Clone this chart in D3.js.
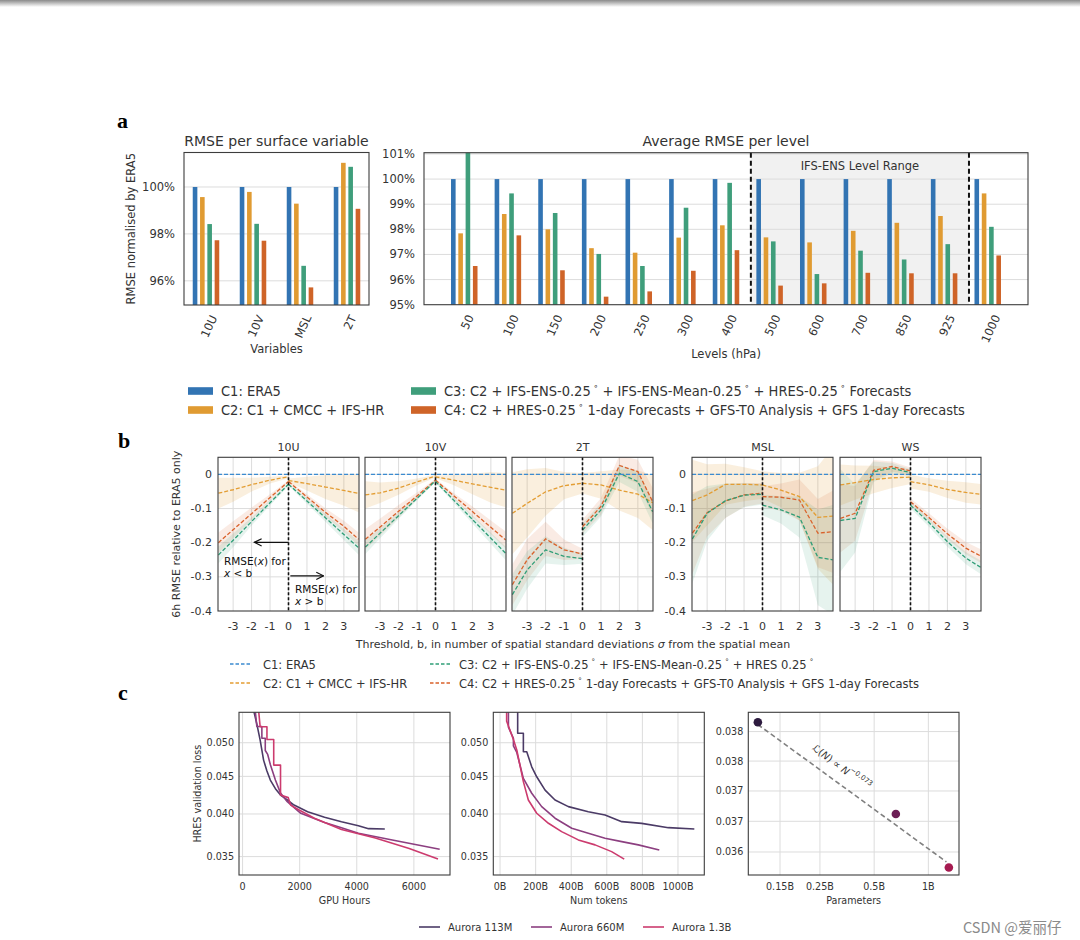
<!DOCTYPE html>
<html>
<head>
<meta charset="utf-8">
<script src="https://cdn.jsdelivr.net/npm/d3@7"></script>
<style>
  body { margin: 0; background: #fff; }
  svg text { font-family: "DejaVu Sans", sans-serif; fill: #333; }
  .cond { font-family: "DejaVu Sans Condensed", "Liberation Sans Narrow", "DejaVu Sans", sans-serif; font-stretch: condensed; }
</style>
</head>
<body>
<svg id="fig" width="1080" height="940"></svg>
<script>
// ---------- panel a data ----------
const configsA = ["C1: ERA5", "C2: C1 + CMCC + IFS-HR",
  "C3: C2 + IFS-ENS-0.25° + IFS-ENS-Mean-0.25° + HRES-0.25° Forecasts",
  "C4: C2 + HRES-0.25° 1-day Forecasts + GFS-T0 Analysis + GFS 1-day Forecasts"];
const barColors = ["#3274b3", "#e09b32", "#3f9e7b", "#cf6428"];
const surfVars = ["10U", "10V", "MSL", "2T"];
const surfC1 = [100, 100, 100, 100];
const surfC2 = [99.57, 99.79, 99.29, 101.03];
const surfC3 = [98.42, 98.43, 96.64, 100.86];
const surfC4 = [97.73, 97.71, 95.72, 99.07];
const surfTicks = [96, 98, 100];
const levels = ["50", "100", "150", "200", "250", "300", "400", "500", "600", "700", "850", "925", "1000"];
const levC1 = [100, 100, 100, 100, 100, 100, 100, 100, 100, 100, 100, 100, 100];
const levC2 = [97.84, 98.61, 98.0, 97.25, 97.07, 97.67, 98.16, 97.68, 97.48, 97.94, 98.26, 98.53, 99.43];
const levC3 = [101.4, 99.43, 98.65, 97.02, 96.54, 98.86, 99.85, 97.52, 96.22, 97.15, 96.8, 97.41, 98.1];
const levC4 = [96.54, 97.76, 96.37, 95.32, 95.53, 96.35, 97.17, 95.76, 95.85, 96.27, 96.25, 96.25, 96.96];
const levTicks = [95, 96, 97, 98, 99, 100, 101];

// ---------- panel b data ----------
const configsB = ["C1: ERA5", "C2: C1 + CMCC + IFS-HR",
  "C3: C2 + IFS-ENS-0.25° + IFS-ENS-Mean-0.25° + HRES 0.25°",
  "C4: C2 + HRES-0.25° 1-day Forecasts + GFS-T0 Analysis + GFS 1-day Forecasts"];
const lineColors = ["#3b8bd0", "#e39d33", "#2f9e77", "#d9622b"];
const bVars = ["10U", "10V", "2T", "MSL", "WS"];
const bXL = [-3.8, -3, -2, -1, 0];
const bXR = [0, 1, 2, 3, 3.8];
const bXTicks = [-3, -2, -1, 0, 1, 2, 3];
const bYTicks = [0, -0.1, -0.2, -0.3, -0.4];
// means, one row per variable (10U, 10V, 2T, MSL, WS)
const c2L = [[-0.055, -0.045, -0.03, -0.017, -0.007], [-0.06, -0.054, -0.04, -0.022, -0.005],
  [-0.114, -0.085, -0.051, -0.033, -0.026], [-0.077, -0.06, -0.029, -0.029, -0.031], [-0.031, -0.024, -0.015, -0.01, -0.008]];
const c2R = [[-0.018, -0.027, -0.037, -0.047, -0.056], [-0.007, -0.017, -0.028, -0.038, -0.046],
  [-0.026, -0.031, -0.046, -0.058, -0.083], [-0.031, -0.046, -0.065, -0.126, -0.122], [-0.021, -0.031, -0.044, -0.053, -0.058]];
const c3L = [[-0.236, -0.193, -0.138, -0.083, -0.029], [-0.213, -0.172, -0.121, -0.07, -0.019],
  [-0.352, -0.28, -0.221, -0.24, -0.247], [-0.189, -0.114, -0.077, -0.061, -0.058], [-0.135, -0.129, 0.008, 0.018, 0.005]];
const c3R = [[-0.029, -0.078, -0.127, -0.176, -0.215], [-0.021, -0.076, -0.132, -0.187, -0.231],
  [-0.163, -0.104, 0.003, -0.021, -0.109], [-0.09, -0.104, -0.125, -0.243, -0.25], [-0.09, -0.141, -0.197, -0.245, -0.272]];
const c4L = [[-0.2, -0.162, -0.115, -0.068, -0.021], [-0.19, -0.154, -0.108, -0.063, -0.017],
  [-0.323, -0.25, -0.189, -0.221, -0.233], [-0.172, -0.112, -0.078, -0.06, -0.055], [-0.129, -0.114, 0.012, 0.023, 0.01]];
const c4R = [[-0.021, -0.066, -0.111, -0.152, -0.19], [-0.017, -0.063, -0.109, -0.155, -0.192],
  [-0.153, -0.094, 0.026, 0.008, -0.08], [-0.065, -0.067, -0.075, -0.172, -0.168], [-0.08, -0.126, -0.174, -0.216, -0.239]];
// spread (half width of shaded band)
const c2BL = [[0.045, 0.035, 0.02, 0.01, 0.004], [0.04, 0.03, 0.02, 0.01, 0.004],
  [0.12, 0.1, 0.07, 0.04, 0.03], [0.12, 0.09, 0.06, 0.05, 0.04], [0.06, 0.05, 0.04, 0.03, 0.02]];
const c2BR = [[0.006, 0.02, 0.035, 0.045, 0.055], [0.004, 0.015, 0.03, 0.045, 0.05],
  [0.03, 0.04, 0.06, 0.07, 0.08], [0.04, 0.05, 0.07, 0.15, 0.2], [0.02, 0.02, 0.025, 0.03, 0.03]];
const c3BL = [[0.025, 0.02, 0.012, 0.008, 0.004], [0.02, 0.015, 0.01, 0.006, 0.004],
  [0.06, 0.055, 0.04, 0.025, 0.015], [0.13, 0.08, 0.05, 0.035, 0.03], [0.15, 0.1, 0.03, 0.015, 0.01]];
const c3BR = [[0.004, 0.008, 0.012, 0.016, 0.02], [0.004, 0.008, 0.012, 0.016, 0.02],
  [0.02, 0.02, 0.025, 0.03, 0.035], [0.03, 0.04, 0.06, 0.14, 0.16], [0.01, 0.012, 0.015, 0.018, 0.02]];
const c4BL = [[0.03, 0.025, 0.018, 0.01, 0.004], [0.03, 0.025, 0.018, 0.01, 0.004],
  [0.06, 0.06, 0.05, 0.03, 0.015], [0.12, 0.07, 0.05, 0.035, 0.03], [0.1, 0.08, 0.03, 0.015, 0.01]];
const c4BR = [[0.004, 0.008, 0.012, 0.016, 0.02], [0.004, 0.008, 0.015, 0.02, 0.025],
  [0.02, 0.025, 0.03, 0.035, 0.04], [0.03, 0.04, 0.06, 0.1, 0.12], [0.01, 0.012, 0.015, 0.018, 0.02]];

// ---------- panel c data ----------
const models = ["Aurora 113M", "Aurora 660M", "Aurora 1.3B"];
const modelLine = ["#4b3b66", "#8c3f80", "#cc3b6e"];
const modelDot = ["#2d1b3f", "#6d1f56", "#a51a50"];
const hours113 = [380, 500, 616, 736, 850, 972, 1150, 1329, 1566, 1803, 2278, 2871, 3464, 4057, 4413, 4982];
const lossH113 = [0.0555, 0.053, 0.0504, 0.04735, 0.0458, 0.04448, 0.0433, 0.04244, 0.0418, 0.04113, 0.04029, 0.03958, 0.03904, 0.03856, 0.0382, 0.03816];
const hours660 = [439, 500, 676, 676, 795, 795, 880, 972, 1150, 1329, 1566, 2040, 2871, 3464, 4057, 5243, 6904];
const lossH660 = [0.0555, 0.0526, 0.0526, 0.0507, 0.0507, 0.0488, 0.0482, 0.0467, 0.0445, 0.0427, 0.04157, 0.04008, 0.03894, 0.0383, 0.03765, 0.03686, 0.03581];
const hours1b3 = [558, 616, 854, 854, 1091, 1091, 1329, 1329, 1600, 1684, 1981, 2515, 3464, 4650, 5836, 6844];
const lossH1b3 = [0.0555, 0.05256, 0.05256, 0.05052, 0.05052, 0.04662, 0.04662, 0.04244, 0.0421, 0.04113, 0.0405, 0.03946, 0.0381, 0.0371, 0.0359, 0.03475];
const tok113 = [99, 99, 131, 131, 150, 178, 206, 253, 309, 384, 496, 590, 684, 796, 946, 1092];
const lossT113 = [0.0555, 0.0515, 0.0515, 0.0486, 0.0486, 0.04637, 0.04494, 0.04311, 0.04179, 0.04093, 0.04029, 0.03988, 0.03905, 0.03884, 0.03832, 0.03816];
const tok660 = [47, 47, 75, 75, 94, 131, 178, 234, 309, 403, 496, 590, 684, 777, 895];
const lossT660 = [0.0555, 0.0525, 0.0507, 0.0495, 0.0485, 0.04472, 0.04268, 0.04093, 0.03947, 0.03825, 0.03766, 0.03707, 0.03668, 0.03631, 0.03573];
const tok1b3 = [37, 37, 75, 94, 131, 159, 206, 272, 346, 440, 534, 627, 698];
const lossT1b3 = [0.0555, 0.0535, 0.0505, 0.04887, 0.04426, 0.04179, 0.04009, 0.03885, 0.03785, 0.03688, 0.03631, 0.03555, 0.03472];
const params = [0.113, 0.660, 1.3];
const finalLoss = [0.03866, 0.03712, 0.03625];
const fitN = [0.113, 1.26];
const fitLoss = [0.03862, 0.03634];
const cTicksH = [0, 2000, 4000, 6000];
const cTicksT = [0, 200, 400, 600, 800, 1000];
const cTicksLoss = [0.035, 0.040, 0.045, 0.050];
const cTicksN = [0.15, 0.25, 0.5, 1];
const cTicksNLab = ["0.15B", "0.25B", "0.5B", "1B"];
const cTicksL3 = [0.0385, 0.038, 0.0375, 0.037, 0.0365];
const cTicksL3Lab = ["0.038", "0.038", "0.037", "0.037", "0.036"];

// ---------- helpers ----------
const fig = d3.select("#fig");
const defs = fig.append("defs");
let clipN = 0;
function clip(b) {
  const id = "clip" + (clipN++);
  defs.append("clipPath").attr("id", id).append("rect")
    .attr("x", b.x0).attr("y", b.y0).attr("width", b.x1 - b.x0).attr("height", b.y1 - b.y0);
  return `url(#${id})`;
}
function frame(g, b) {
  g.append("rect").attr("x", b.x0).attr("y", b.y0).attr("width", b.x1 - b.x0).attr("height", b.y1 - b.y0)
    .attr("fill", "none").attr("stroke", "#3d3d3d").attr("stroke-width", 1.1);
}
function hgrid(g, b, y, ticks) {
  g.append("g").selectAll("line").data(ticks).join("line")
    .attr("x1", b.x0).attr("x2", b.x1).attr("y1", d => y(d)).attr("y2", d => y(d))
    .attr("stroke", "#dcdcdc").attr("stroke-width", 1);
}
function vgrid(g, b, x, ticks) {
  g.append("g").selectAll("line").data(ticks).join("line")
    .attr("y1", b.y0).attr("y2", b.y1).attr("x1", d => x(d)).attr("x2", d => x(d))
    .attr("stroke", "#dcdcdc").attr("stroke-width", 1);
}
function label(g, txt, x, y, fs, anchor, rot) {
  const t = g.append("text").attr("font-size", fs).attr("text-anchor", anchor || "middle")
    .attr("dominant-baseline", "central").text(txt);
  t.attr("transform", `translate(${x},${y})` + (rot ? ` rotate(${rot})` : ""));
  return t;
}
// write text with raised degree circles
function degText(t, str, fs) {
  const parts = str.split("°");
  parts.forEach((p, i) => {
    t.append("tspan").text(p);
    if (i < parts.length - 1) {
      t.append("tspan").attr("dx", 2.5).attr("font-size", fs * 0.62).attr("baseline-shift", "super").text("∘");
    }
  });
}

// top page shadow
const grad = defs.append("linearGradient").attr("id", "shadow").attr("x1", 0).attr("x2", 0).attr("y1", 0).attr("y2", 1);
grad.append("stop").attr("offset", "0%").attr("stop-color", "#8a8a8a");
grad.append("stop").attr("offset", "100%").attr("stop-color", "#ffffff");
fig.append("rect").attr("width", 1080).attr("height", 7).attr("fill", "url(#shadow)");

// panel letters
[["a", 117, 128], ["b", 118, 448], ["c", 118, 700]].forEach(([s, x, y]) => {
  fig.append("text").attr("x", x).attr("y", y).attr("font-size", 22).attr("font-weight", "bold")
    .style("font-family", "'Liberation Serif', 'DejaVu Serif', serif").style("fill", "#000").text(s);
});

// ================= panel a =================
const sub = d3.scaleBand().domain(d3.range(4)).range([-14.6, 14.6]).paddingInner(0.37).paddingOuter(0.185);

function rotTick(g, txt, cx, top, fs) {
  const t = g.append("text").attr("font-size", fs).attr("text-anchor", "middle")
    .attr("dominant-baseline", "central").text(txt);
  const len = t.node().getComputedTextLength();
  const a = 65 * Math.PI / 180;
  const h = len * Math.sin(a) + fs * 0.75 * Math.cos(a);
  t.attr("transform", `translate(${cx},${top + h / 2}) rotate(-65)`);
}

function barPanel(box, cats, series, x, y, ticks) {
  const g = fig.append("g");
  hgrid(g, box, y, ticks.filter(d => y(d) > box.y0 + 1 && y(d) < box.y1 - 1));
  const bg = g.append("g").attr("clip-path", clip(box));
  series.forEach((vals, si) => {
    bg.append("g").selectAll("rect").data(vals).join("rect")
      .attr("x", (d, i) => x(cats[i]) + sub(si))
      .attr("width", sub.bandwidth())
      .attr("y", d => y(d))
      .attr("height", d => box.y1 - y(d) + 2)
      .attr("fill", barColors[si]);
  });
  g.append("g").selectAll("text").data(ticks).join("text")
    .attr("x", box.x0 - 9).attr("y", d => y(d)).attr("font-size", 11.5)
    .attr("text-anchor", "end").attr("dominant-baseline", "central").text(d => d + "%");
  cats.forEach(c => rotTick(g, c, x(c) + 3, box.y1 + 9, 11.5));
  return g;
}

// surface variables
const aL = { x0: 184, x1: 369, y0: 152.5, y1: 305 };
const xS = d3.scalePoint().domain(surfVars).range([aL.x0, aL.x1]).padding(0.468);
const yS = d3.scaleLinear().domain([94.97, 101.47]).range([aL.y1, aL.y0]);
const gL = barPanel(aL, surfVars, [surfC1, surfC2, surfC3, surfC4], xS, yS, surfTicks);
frame(gL, aL);
label(gL, "RMSE per surface variable", (aL.x0 + aL.x1) / 2, 141, 14);
label(gL, "Variables", (aL.x0 + aL.x1) / 2, 349, 11.5);
label(gL, "RMSE normalised by ERA5", 131, (aL.y0 + aL.y1) / 2, 11.5, "middle", -90);

// per level
const aR = { x0: 424, x1: 1028, y0: 152.7, y1: 304.7 };
const xLv = d3.scalePoint().domain(levels).range([aR.x0, aR.x1]).padding(0.923);
const yLv = d3.scaleLinear().domain([95, 101.05]).range([aR.y1, aR.y0]);
const ensLo = xLv(levels[6]) + xLv.step() * 0.57;
const ensHi = xLv(levels[11]) + xLv.step() * 0.57;
fig.append("rect").attr("x", ensLo).attr("y", aR.y0).attr("width", ensHi - ensLo).attr("height", aR.y1 - aR.y0)
  .attr("fill", "#f1f1f1");
const gR = barPanel(aR, levels, [levC1, levC2, levC3, levC4], xLv, yLv, levTicks);
[ensLo, ensHi].forEach(xv => {
  gR.append("line").attr("x1", xv).attr("x2", xv).attr("y1", aR.y0).attr("y2", aR.y1)
    .attr("stroke", "#111").attr("stroke-width", 2).attr("stroke-dasharray", "5,3");
});
label(gR, "IFS-ENS Level Range", (ensLo + ensHi) / 2, 166, 11.5);
frame(gR, aR);
label(gR, "Average RMSE per level", (aR.x0 + aR.x1) / 2, 141, 14);
label(gR, "Levels (hPa)", (aR.x0 + aR.x1) / 2, 354, 11.5);

// legend a
const legA = fig.append("g");
configsA.forEach((c, i) => {
  const col = i < 2 ? 0 : 1, row = i % 2;
  const lx = [188, 411][col], ly = [391, 410][row];
  legA.append("rect").attr("x", lx).attr("y", ly - 3.8).attr("width", 25).attr("height", 7.6).attr("fill", barColors[i]);
  const t = legA.append("text").attr("class", "cond").attr("x", lx + 33).attr("y", ly)
    .attr("font-size", 14.5).attr("dominant-baseline", "central");
  degText(t, c, 14.5);
});

// ================= panel b =================
const bBoxes = [[218, 359], [365, 506], [512, 653], [692, 833], [840, 981]];
const bTop = 457.3, bBot = 611;
const yB = d3.scaleLinear().domain([-0.4, 0.05]).range([bBot, bTop]);
const fmtB = d => d === 0 ? "0" : d3.format(".1f")(d).replace("−", "-");

bVars.forEach((v, i) => {
  const box = { x0: bBoxes[i][0], x1: bBoxes[i][1], y0: bTop, y1: bBot };
  const x = d3.scaleLinear().domain([-3.82, 3.82]).range([box.x0, box.x1]);
  const g = fig.append("g");
  vgrid(g, box, x, bXTicks);
  hgrid(g, box, yB, bYTicks.slice(0, 4));
  const cg = g.append("g").attr("clip-path", clip(box));
  const sides = [[bXL, c2L, c2BL, c3L, c3BL, c4L, c4BL], [bXR, c2R, c2BR, c3R, c3BR, c4R, c4BR]];
  const specs = [[1, 2, 0.16], [5, 6, 0.13], [3, 4, 0.12]]; // [mean idx, band idx, opacity] for C2, C4, C3
  const colOf = { 1: lineColors[1], 3: lineColors[2], 5: lineColors[3] };
  sides.forEach(s => {
    const xs = s[0];
    specs.forEach(([mi, bi, op]) => {
      const m = s[mi][i], b = s[bi][i];
      const area = d3.area().x((d, j) => x(xs[j])).y0((d, j) => yB(m[j] - b[j])).y1((d, j) => yB(m[j] + b[j]));
      cg.append("path").attr("d", area(m)).attr("fill", colOf[mi]).attr("fill-opacity", op);
    });
  });
  sides.forEach(s => {
    const xs = s[0];
    [1, 5, 3].forEach(mi => {
      const m = s[mi][i];
      const line = d3.line().x((d, j) => x(xs[j])).y(d => yB(d));
      cg.append("path").attr("d", line(m)).attr("fill", "none").attr("stroke", colOf[mi])
        .attr("stroke-width", 1.3).attr("stroke-dasharray", "4,2");
    });
  });
  cg.append("line").attr("x1", box.x0).attr("x2", box.x1).attr("y1", yB(0)).attr("y2", yB(0))
    .attr("stroke", lineColors[0]).attr("stroke-width", 1.3).attr("stroke-dasharray", "4,2");
  g.append("line").attr("x1", x(0)).attr("x2", x(0)).attr("y1", box.y0).attr("y2", box.y1)
    .attr("stroke", "#111").attr("stroke-width", 1.6).attr("stroke-dasharray", "3,2");
  frame(g, box);
  label(g, v, (box.x0 + box.x1) / 2, 447, 11);
  g.append("g").selectAll("text").data(bXTicks).join("text")
    .attr("x", d => x(d)).attr("y", 626.5).attr("font-size", 11).attr("text-anchor", "middle")
    .attr("dominant-baseline", "central").text(d => String(d));
  if (i === 0 || i === 3) {
    g.append("g").selectAll("text").data(bYTicks).join("text")
      .attr("x", box.x0 - 6).attr("y", d => yB(d)).attr("font-size", 11).attr("text-anchor", "end")
      .attr("dominant-baseline", "central").text(fmtB);
  }
  if (i === 0) {
    defs.append("marker").attr("id", "arrow").attr("viewBox", "0 0 10 10").attr("refX", 9).attr("refY", 5)
      .attr("markerWidth", 7).attr("markerHeight", 7).attr("orient", "auto-start-reverse")
      .append("path").attr("d", "M1,1 L9,5 L1,9").attr("fill", "none").attr("stroke", "#111").attr("stroke-width", 1.3);
    g.append("line").attr("x1", x(0)).attr("x2", x(-1.85)).attr("y1", yB(-0.199)).attr("y2", yB(-0.199))
      .attr("stroke", "#111").attr("stroke-width", 1.3).attr("marker-end", "url(#arrow)");
    g.append("line").attr("x1", x(0.1)).attr("x2", x(1.9)).attr("y1", yB(-0.297)).attr("y2", yB(-0.297))
      .attr("stroke", "#111").attr("stroke-width", 1.3).attr("marker-end", "url(#arrow)");
    const ann = [[-3.5, -0.255, "RMSE(", "x", ") for"], [-3.5, -0.29, "", "x", " < b"],
                 [0.35, -0.335, "RMSE(", "x", ") for"], [0.35, -0.37, "", "x", " > b"]];
    ann.forEach(([ax, ay, a, b, c]) => {
      const t = g.append("text").attr("x", x(ax)).attr("y", yB(ay)).attr("font-size", 10.5)
        .attr("dominant-baseline", "central").style("fill", "#111");
      t.append("tspan").text(a);
      t.append("tspan").attr("font-style", "italic").text(b);
      t.append("tspan").text(c);
    });
  }
});
label(fig, "6h RMSE relative to ERA5 only", 176, (bTop + bBot) / 2, 11, "middle", -90);
{
  const t = fig.append("text").attr("x", 573).attr("y", 644).attr("font-size", 11)
    .attr("text-anchor", "middle").attr("dominant-baseline", "central");
  t.append("tspan").text("Threshold, b, in number of spatial standard deviations ");
  t.append("tspan").attr("font-style", "italic").text("σ");
  t.append("tspan").text(" from the spatial mean");
}

// legend b
const legB = fig.append("g");
configsB.forEach((c, i) => {
  const col = i < 2 ? 0 : 1, row = i % 2;
  const lx = [230, 430][col], ly = [664, 683][row];
  legB.append("line").attr("x1", lx).attr("x2", lx + 22).attr("y1", ly).attr("y2", ly)
    .attr("stroke", lineColors[i]).attr("stroke-width", 1.3).attr("stroke-dasharray", "3.5,2");
  const t = legB.append("text").attr("class", "cond").attr("x", lx + (col === 0 ? 33 : 29)).attr("y", ly)
    .attr("font-size", 12.8).attr("dominant-baseline", "central");
  degText(t, c, 12.8);
});

// ================= panel c =================
const cTop = 712.3, cBot = 875;
const yC = d3.scaleLog().domain([0.03304, 0.055]).range([cBot, cTop]);
const fmtC = d3.format(".3f");

function curvePanel(box, x, xTicks, xFmt, curves, xLabel, yLabelOn) {
  const g = fig.append("g");
  vgrid(g, box, x, xTicks);
  hgrid(g, box, yC, cTicksLoss);
  const cg = g.append("g").attr("clip-path", clip(box));
  curves.forEach(([xs, ys], k) => {
    const line = d3.line().x((d, j) => x(xs[j])).y(d => yC(d));
    cg.append("path").attr("d", line(ys)).attr("fill", "none").attr("stroke", modelLine[k])
      .attr("stroke-width", 1.6).attr("stroke-linejoin", "round");
  });
  frame(g, box);
  g.append("g").selectAll("text").data(xTicks).join("text")
    .attr("x", d => x(d)).attr("y", 886).attr("font-size", 9.6).attr("text-anchor", "middle")
    .attr("dominant-baseline", "central").text(xFmt);
  g.append("g").selectAll("text").data(cTicksLoss).join("text")
    .attr("x", box.x0 - 5).attr("y", d => yC(d)).attr("font-size", 9.6).attr("text-anchor", "end")
    .attr("dominant-baseline", "central").text(fmtC);
  label(g, xLabel, (box.x0 + box.x1) / 2, 900, 9.6);
  if (yLabelOn) label(g, "HRES validation loss", 197, (cTop + cBot) / 2, 9.6, "middle", -90);
}

const c1 = { x0: 239, x1: 450, y0: cTop, y1: cBot };
const xH = d3.scaleLinear().domain([-125, 7265]).range([c1.x0, c1.x1]);
curvePanel(c1, xH, cTicksH, d => String(d), [[hours113, lossH113], [hours660, lossH660], [hours1b3, lossH1b3]], "GPU Hours", true);

const c2 = { x0: 493.3, x1: 704.3, y0: cTop, y1: cBot };
const xT = d3.scaleLinear().domain([-38, 1148]).range([c2.x0, c2.x1]);
curvePanel(c2, xT, cTicksT, d => d + "B", [[tok113, lossT113], [tok660, lossT660], [tok1b3, lossT1b3]], "Num tokens", false);

// scaling panel
const c3 = { x0: 748.3, x1: 959, y0: cTop, y1: cBot };
const xN = d3.scaleLog().domain([0.1, 1.48]).range([c3.x0, c3.x1]);
const yN = d3.scaleLog().domain([0.03613, 0.03883]).range([cBot, cTop]);
{
  const g = fig.append("g");
  vgrid(g, c3, xN, cTicksN);
  hgrid(g, c3, yN, cTicksL3);
  const fit = d3.line().x((d, j) => xN(fitN[j])).y(d => yN(d));
  g.append("path").attr("d", fit(fitLoss)).attr("fill", "none").attr("stroke", "#808080")
    .attr("stroke-width", 1.6).attr("stroke-dasharray", "5,3");
  g.append("g").selectAll("circle").data(finalLoss).join("circle")
    .attr("cx", (d, j) => xN(params[j])).attr("cy", d => yN(d)).attr("r", 4.3)
    .attr("fill", (d, j) => modelDot[j]);
  frame(g, c3);
  g.append("g").selectAll("text").data(cTicksN).join("text")
    .attr("x", d => xN(d)).attr("y", 886).attr("font-size", 9.6).attr("text-anchor", "middle")
    .attr("dominant-baseline", "central").text((d, j) => cTicksNLab[j]);
  g.append("g").selectAll("text").data(cTicksL3).join("text")
    .attr("x", c3.x0 - 5).attr("y", d => yN(d)).attr("font-size", 9.6).attr("text-anchor", "end")
    .attr("dominant-baseline", "central").text((d, j) => cTicksL3Lab[j]);
  label(g, "Parameters", (c3.x0 + c3.x1) / 2, 900, 9.6);
  const t = g.append("text").attr("font-size", 10).attr("text-anchor", "middle").attr("dominant-baseline", "central")
    .attr("transform", `translate(${xN(0.33)},${yN(0.0379)}) rotate(37)`);
  t.append("tspan").text("ℒ(");
  t.append("tspan").attr("font-style", "italic").text("N");
  t.append("tspan").text(") ∝ ");
  t.append("tspan").attr("font-style", "italic").text("N");
  t.append("tspan").attr("font-size", 7).attr("baseline-shift", "super").text("−0.073");
}

// legend c
const legC = fig.append("g");
const legCX = [419, 531, 643];
models.forEach((m, k) => {
  legC.append("line").attr("x1", legCX[k]).attr("x2", legCX[k] + 21).attr("y1", 927).attr("y2", 927)
    .attr("stroke", modelLine[k]).attr("stroke-width", 1.6);
  legC.append("text").attr("x", legCX[k] + 29).attr("y", 927).attr("font-size", 10)
    .attr("dominant-baseline", "central").text(m);
});

// watermark
fig.append("text").attr("x", 963).attr("y", 926).attr("font-size", 14.5).attr("dominant-baseline", "central")
  .style("font-family", "'Noto Sans CJK SC', 'DejaVu Sans', sans-serif").style("fill", "#8a8a8a")
  .text("CSDN @爱丽仔");
</script>
</body>
</html>
